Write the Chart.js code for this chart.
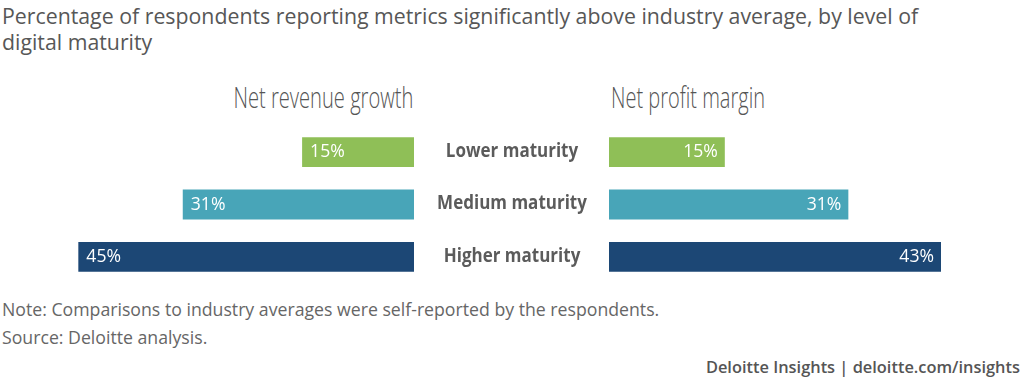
<!DOCTYPE html>
<html>
<head>
<meta charset="utf-8">
<script src="https://cdn.jsdelivr.net/npm/chart.js@4.4.1/dist/chart.umd.min.js"></script>
<style>
  html, body { margin: 0; padding: 0; background: #fff; }
  body { width: 1024px; height: 389px; position: relative; overflow: hidden; font-family: 'Open Sans', sans-serif; }
  .txt { position: absolute; white-space: nowrap; line-height: 1; }
  .title { left: 2px; top: 3px; font-size: 21.3px; color: #575757; line-height: 26px; }
  .sub { font-size: 29px; font-weight: 300; color: #555; top: 82px; display: inline-block; }
  .note { left: 2px; font-size: 17.7px; color: #666; }
  .foot { right: 4px; top: 359px; font-size: 16.4px; font-weight: 600; color: #555; }
  canvas { position: absolute; }
  #left-box { position: absolute; left: 0; top: 126px; width: 414px; height: 157px; }
  #right-box { position: absolute; left: 420px; top: 126px; width: 604px; height: 157px; }
</style>
</head>
<body>
<div class="txt title">Percentage of respondents reporting metrics significantly above industry average, by level of<br>digital maturity</div>
<span class="txt sub" id="sub-left" data-w="180" style="right: 611px; transform-origin: right center;">Net revenue growth</span>
<span class="txt sub" id="sub-right" data-w="154" style="left: 611px; transform-origin: left center;">Net profit margin</span>
<div id="left-box"><canvas id="left"></canvas></div>
<div id="right-box"><canvas id="right"></canvas></div>
<div class="txt note" style="top: 301px;">Note: Comparisons to industry averages were self-reported by the respondents.</div>
<div class="txt note" style="top: 329px;">Source: Deloitte analysis.</div>
<div class="txt foot">Deloitte Insights | deloitte.com/insights</div>
<script>
var categories = ['Lower maturity', 'Medium maturity', 'Higher maturity'];
var revenueGrowth = [15, 31, 45];
var profitMargin = [15, 31, 43];
var barColors = ['#8fbf57', '#48a5b8', '#1c4775'];
var leftMax = 55.5;
var rightMax = 53.75;

// squeeze the light subtitle text to look like a condensed face
document.querySelectorAll('.sub').forEach(function (el) {
    var w = el.getBoundingClientRect().width;
    el.style.transform = 'scaleX(' + (el.dataset.w / w) + ')';
});

var valueLabels = {
    id: 'valueLabels',
    afterDatasetsDraw: function (chart, args, opts) {
        var ctx = chart.ctx;
        var meta = chart.getDatasetMeta(0);
        ctx.save();
        ctx.font = '17.6px "Open Sans"';
        ctx.fillStyle = '#fff';
        ctx.textBaseline = 'middle';
        meta.data.forEach(function (bar, i) {
            var v = chart.data.datasets[0].data[i] + '%';
            if (opts.side === 'left') {
                ctx.textAlign = 'left';
                ctx.fillText(v, bar.x + 8, bar.y);
            } else {
                ctx.textAlign = 'right';
                ctx.fillText(v, bar.x - 7, bar.y);
            }
        });
        ctx.restore();
    }
};

var centerLabels = {
    id: 'centerLabels',
    afterDraw: function (chart) {
        var ctx = chart.ctx;
        var y = chart.scales.y;
        ctx.save();
        ctx.font = 'bold 20px "Open Sans"';
        ctx.fillStyle = '#5b5b5b';
        ctx.textAlign = 'center';
        ctx.textBaseline = 'middle';
        chart.data.labels.forEach(function (lab, i) {
            ctx.save();
            ctx.translate(92, y.getPixelForValue(i) - 1);
            ctx.scale(0.85, 1);
            ctx.fillText(lab, 0, 0);
            ctx.restore();
        });
        ctx.restore();
    }
};

function barOptions(max, reverse, padLeft) {
    return {
        indexAxis: 'y',
        responsive: true,
        maintainAspectRatio: false,
        animation: false,
        layout: { padding: { left: padLeft, right: 0, top: 0, bottom: 0 } },
        plugins: {
            legend: { display: false },
            tooltip: { enabled: false },
            valueLabels: { side: reverse ? 'left' : 'right' }
        },
        scales: {
            x: { display: false, min: 0, max: max, reverse: reverse },
            y: { display: false }
        }
    };
}

new Chart(document.getElementById('left'), {
    type: 'bar',
    data: {
        labels: categories,
        datasets: [{
            data: revenueGrowth,
            backgroundColor: barColors,
            barPercentage: 0.57,
            categoryPercentage: 1
        }]
    },
    options: barOptions(leftMax, true, 0),
    plugins: [valueLabels]
});

new Chart(document.getElementById('right'), {
    type: 'bar',
    data: {
        labels: categories,
        datasets: [{
            data: profitMargin,
            backgroundColor: barColors,
            barPercentage: 0.57,
            categoryPercentage: 1
        }]
    },
    options: barOptions(rightMax, false, 189),
    plugins: [valueLabels, centerLabels]
});
</script>
</body>
</html>
